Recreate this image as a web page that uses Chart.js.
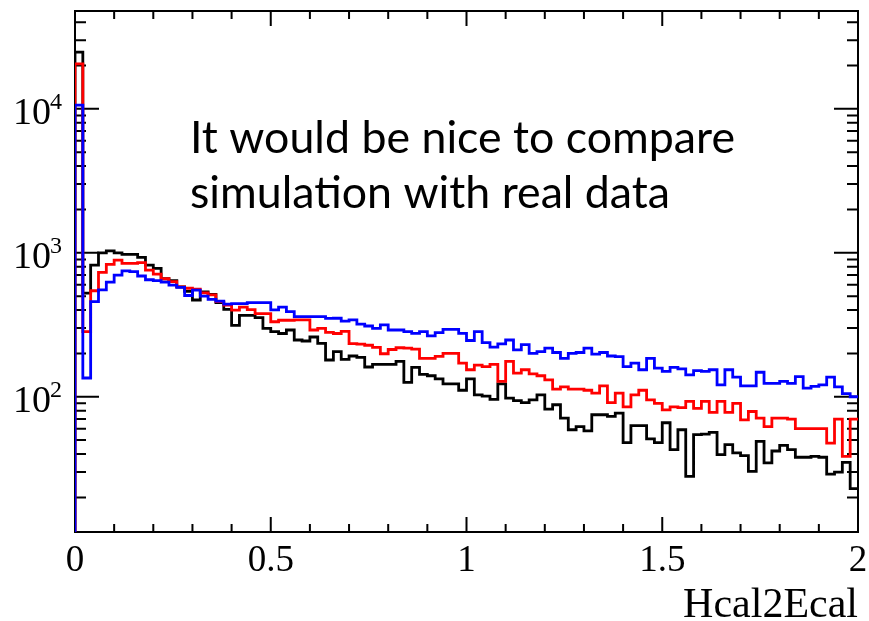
<!DOCTYPE html>
<html>
<head>
<meta charset="utf-8">
<script src="https://cdn.jsdelivr.net/npm/chart.js@4.4.1/dist/chart.umd.min.js"></script>
<style>
  html, body { margin: 0; padding: 0; background: #fff; }
  canvas { display: block; }
</style>
</head>
<body>
<canvas id="chart" width="869" height="621"></canvas>
<script>
// histogram range, 100 bins of 0.02
const xMin = 0, xMax = 2, nBins = 100;
const yMin = 11.5, yMax = 47800;
const xTickLabels = ['0', '0.5', '1', '1.5', '2'];
const xTickValues = [0, 0.5, 1, 1.5, 2];
const yTickValues = [100, 1000, 10000];
const yTickExponents = ['2', '3', '4'];
const xTitle = 'Hcal2Ecal';
const noteLines = ['It would be nice to compare', 'simulation with real data'];

// bin contents
const blackCounts = [
  24800, 524, 820, 1000, 1030, 1000, 975, 975, 930, 820,
  780, 660, 640, 580, 540, 470, 535, 515, 450, 405,
  313, 367, 367, 355, 299, 283, 275, 291, 248, 244,
  260, 235, 180, 206, 182, 192, 188, 161, 168, 168,
  168, 176, 126, 160, 143, 140, 133, 123, 123, 111,
  133, 103, 101, 96, 123, 98, 94, 91, 95, 103,
  82, 88, 71, 59, 62, 58, 75, 75, 73, 77,
  48, 63, 63, 51, 48, 66, 43, 59, 28, 54.5,
  55, 56.6, 39.6, 46.5, 40.7, 39, 30.3, 49, 34.7, 42,
  46, 43, 38, 38, 38.5, 38, 29, 30, 35, 23
];
const redCounts = [
  20500, 283, 545, 730, 830, 890, 845, 845, 855, 759,
  710, 660, 630, 580, 567, 560, 527, 510, 458, 434,
  400, 420, 403, 378, 378, 332, 340, 340, 342, 342,
  291, 299, 280, 275, 285, 234, 232, 228, 220, 199,
  213, 219, 218, 214, 185, 185, 191, 200, 200, 171,
  154, 166, 162, 168, 128, 176, 146, 154, 144, 140,
  131, 113, 117, 113, 113, 111, 106, 119, 91, 106,
  85, 103, 111, 95, 90, 81, 85, 84, 93, 83,
  93, 78, 93, 78, 90, 69, 79, 71, 62, 71,
  71, 70, 60, 60, 60, 60, 47.7, 70, 38.6, 70
];
const blueCounts = [
  10600, 135, 458, 552, 625, 700, 750, 740, 690, 650,
  640, 625, 597, 575, 505, 550, 500, 475, 462, 440,
  443, 443, 450, 450, 450, 401, 420, 390, 360, 360,
  360, 360, 350, 351, 335, 342, 320, 310, 299, 316,
  291, 291, 283, 276, 283, 265, 279, 294, 294, 276,
  246, 283, 238, 221, 233, 248, 212, 230, 200, 206,
  218, 203, 185, 200, 203, 218, 198, 203, 192, 190,
  162, 171, 154, 185, 158, 150, 160, 156, 142, 152,
  150, 154, 121, 154, 137, 119, 119, 148, 124, 124,
  128, 124, 138, 115, 118, 121, 137, 117, 105, 100
];

const binWidth = (xMax - xMin) / nBins;

// outline like ROOT: up from the axis at the low edge, then one step per bin
const toSteps = (counts) => {
  const pts = [{x: xMin, y: yMin}];
  counts.forEach((c, i) => pts.push({x: xMin + i * binWidth, y: c}));
  pts.push({x: xMax, y: counts[counts.length - 1]});
  return pts;
};

const histo = (label, counts, color) => ({
  label: label,
  data: toSteps(counts),
  borderColor: color,
  borderWidth: 2.8,
  stepped: 'before',
  pointRadius: 0,
  fill: false,
  tension: 0
});

// frame with inside ticks on all four sides + labels
const rootAxes = {
  id: 'rootAxes',
  beforeDatasetsDraw(chart) {
    const {ctx, chartArea: a, scales: {x, y}} = chart;
    ctx.save();
    ctx.strokeStyle = '#000';
    ctx.lineWidth = 2;
    ctx.strokeRect(a.left, a.top, a.right - a.left, a.bottom - a.top);
    ctx.beginPath();
    for (let t = 0; t <= 20; t++) {
      const px = x.getPixelForValue(t / 10);
      const len = t % 5 === 0 ? 15 : 8;
      ctx.moveTo(px, a.bottom); ctx.lineTo(px, a.bottom - len);
      ctx.moveTo(px, a.top); ctx.lineTo(px, a.top + len);
    }
    for (let e = 1; e <= 4; e++) {
      for (let m = 1; m <= 9; m++) {
        const v = m * Math.pow(10, e);
        if (v < yMin || v > yMax) continue;
        const py = y.getPixelForValue(v);
        const len = m === 1 ? 24 : 11;
        ctx.moveTo(a.left, py); ctx.lineTo(a.left + len, py);
        ctx.moveTo(a.right, py); ctx.lineTo(a.right - len, py);
      }
    }
    ctx.stroke();
    ctx.restore();
  },
  afterDraw(chart) {
    const {ctx, chartArea: a, scales: {x, y}} = chart;
    ctx.save();
    ctx.fillStyle = '#000';
    ctx.font = '37px "Liberation Serif"';
    ctx.textAlign = 'center';
    ctx.textBaseline = 'middle';
    xTickValues.forEach((v, i) => {
      ctx.fillText(xTickLabels[i], x.getPixelForValue(v), a.bottom + 29);
    });
    yTickValues.forEach((v, i) => {
      const py = y.getPixelForValue(v);
      ctx.textAlign = 'right';
      ctx.font = '38px "Liberation Serif"';
      ctx.fillText('10', 51, py + 5);
      ctx.textAlign = 'left';
      ctx.font = '24px "Liberation Serif"';
      ctx.fillText(yTickExponents[i], 50, py - 6);
    });
    ctx.textAlign = 'right';
    ctx.font = '42px "Liberation Serif"';
    ctx.fillText(xTitle, a.right, 606);

    // the pasted note
    ctx.font = '44px Lato';
    ctx.textAlign = 'left';
    ctx.textBaseline = 'alphabetic';
    const sx = 545 / ctx.measureText(noteLines[0]).width;
    [153, 208].forEach((base, i) => {
      ctx.save();
      ctx.translate(190, base);
      ctx.scale(sx, 1);
      ctx.fillText(noteLines[i], 0, 0);
      ctx.restore();
    });
    ctx.restore();
  }
};

new Chart(document.getElementById('chart'), {
  type: 'line',
  data: {
    datasets: [
      histo('blue', blueCounts, '#0000ff'),
      histo('red', redCounts, '#ff0000'),
      histo('black', blackCounts, '#000000')
    ]
  },
  options: {
    responsive: false,
    devicePixelRatio: 1,
    animation: false,
    layout: { padding: { left: 75, right: 11, top: 11, bottom: 89 } },
    scales: {
      x: { type: 'linear', min: xMin, max: xMax, display: false },
      y: { type: 'logarithmic', min: yMin, max: yMax, display: false }
    },
    plugins: { legend: { display: false }, tooltip: { enabled: false } }
  },
  plugins: [rootAxes]
});
</script>
</body>
</html>
